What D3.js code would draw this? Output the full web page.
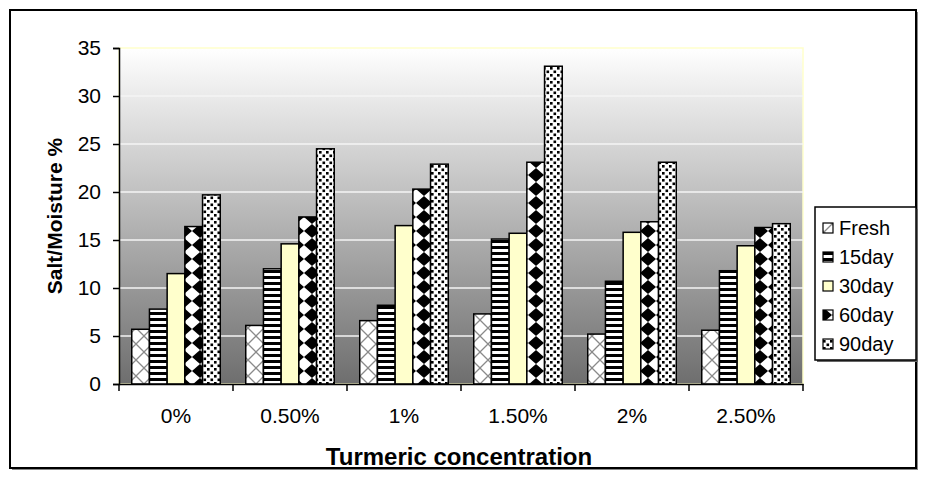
<!DOCTYPE html>
<html><head><meta charset="utf-8">
<script src="https://cdn.jsdelivr.net/npm/d3@7"></script>
<style>body{margin:0;background:#fff}svg{display:block;font-family:"Liberation Sans",Arial,sans-serif}</style>
</head><body><svg id="c" width="926" height="495"></svg>
<script>
const categories = ["0%","0.50%","1%","1.50%","2%","2.50%"];
const seriesNames = ["Fresh","15day","30day","60day","90day"];
const fresh = [5.7, 6.1, 6.6, 7.3, 5.2, 5.6];
const day15 = [7.8, 12.0, 8.2, 15.1, 10.7, 11.8];
const day30 = [11.5, 14.6, 16.5, 15.7, 15.8, 14.4];
const day60 = [16.4, 17.4, 20.3, 23.1, 16.9, 16.3];
const day90 = [19.7, 24.5, 22.9, 33.1, 23.1, 16.7];
const yTicks = [0,5,10,15,20,25,30,35];
const values = [fresh, day15, day30, day60, day90];

const svg = d3.select("#c");
const defs = svg.append("defs");
const g = defs.append("linearGradient").attr("id","bg").attr("x1",0).attr("y1",0).attr("x2",0).attr("y2",1);
g.append("stop").attr("offset","0%").attr("stop-color","#ffffff");
g.append("stop").attr("offset","100%").attr("stop-color","#6e6e6e");
function pat(id,w,h){return defs.append("pattern").attr("id",id).attr("patternUnits","userSpaceOnUse").attr("width",w).attr("height",h);}
let p = pat("pFresh",16,16);
p.append("rect").attr("width",16).attr("height",16).attr("fill","#fff");
p.append("path").attr("d","M0,0L16,16M16,0L0,16").attr("stroke","#8a8a8a").attr("stroke-width",1.3);
p = pat("p15",6,6);
p.append("rect").attr("width",6).attr("height",6).attr("fill","#fff");
p.append("rect").attr("width",6).attr("height",3).attr("fill","#000");
p = pat("p60",16,14);
p.append("rect").attr("width",16).attr("height",14).attr("fill","#fff");
p.append("path").attr("d","M8,0L16,7L8,14L0,7Z").attr("fill","#000");
p = pat("p90",7,7);
p.append("rect").attr("width",7).attr("height",7).attr("fill","#fff");
p.append("rect").attr("x",0.5).attr("y",0.5).attr("width",2.6).attr("height",2.6).attr("fill","#000");
p.append("rect").attr("x",4).attr("y",4).attr("width",2.6).attr("height",2.6).attr("fill","#000");
const fills = ["url(#pFresh)","url(#p15)","#ffffcc","url(#p60)","url(#p90)"];

// outer frame
svg.append("rect").attr("x",12).attr("y",12).attr("width",906).attr("height",458).attr("fill","#888");
svg.append("rect").attr("x",10).attr("y",10).attr("width",906).attr("height",458).attr("fill","#fff").attr("stroke","#000").attr("stroke-width",2);

const L=119, R=803, T=48, B=384;
const x0 = d3.scaleBand().domain(categories).range([L,R]);
const x1 = d3.scaleBand().domain(seriesNames).range([0,x0.bandwidth()]).paddingOuter(0.72);
const y = d3.scaleLinear().domain([0,35]).range([B,T]);

svg.append("rect").attr("x",L).attr("y",T).attr("width",R-L).attr("height",B-T).attr("fill","url(#bg)").attr("stroke","#ffffcc").attr("stroke-width",1.5);
svg.append("g").selectAll("line").data(yTicks.filter(d=>d>0&&d<35)).join("line")
  .attr("x1",L).attr("x2",R).attr("y1",d=>y(d)).attr("y2",d=>y(d)).attr("stroke","#f4f4f4").attr("stroke-width",1.5);

const bars = svg.append("g");
seriesNames.forEach((s,i)=>{
  bars.append("g").selectAll("rect").data(values[i]).join("rect")
    .attr("x",(d,j)=>x0(categories[j])+x1(s))
    .attr("width",x1.bandwidth())
    .attr("y",d=>y(d)).attr("height",d=>B-y(d))
    .attr("fill",fills[i]).attr("stroke","#000").attr("stroke-width",1.5);
});

const ya = svg.append("g").attr("transform",`translate(${L},0)`).call(d3.axisLeft(y).tickValues(yTicks).tickSize(6).tickPadding(12));
ya.select(".domain").attr("stroke","#000").attr("stroke-width",1.5);
ya.selectAll("text").attr("font-size",21).attr("fill","#000").attr("font-family","Liberation Sans, Arial");
ya.selectAll("line").attr("stroke","#000").attr("stroke-width",1.5);

const xa = svg.append("g").attr("transform",`translate(0,${B})`).call(d3.axisBottom(x0).tickSize(0).tickPadding(24));
xa.select(".domain").attr("stroke","#000").attr("stroke-width",1.5);
xa.selectAll("text").attr("font-size",21).attr("fill","#000").attr("font-family","Liberation Sans, Arial");
svg.append("g").selectAll("line").data(categories.concat(["end"])).join("line")
  .attr("x1",(d,i)=>i<categories.length?x0(d):R).attr("x2",(d,i)=>i<categories.length?x0(d):R)
  .attr("y1",B).attr("y2",B+7).attr("stroke","#000").attr("stroke-width",1.5);

svg.append("text").attr("x",459).attr("y",465).attr("text-anchor","middle").attr("font-weight","bold").attr("font-size",24).text("Turmeric concentration");
svg.append("text").attr("transform",`translate(62,${(T+B)/2}) rotate(-90)`).attr("text-anchor","middle").attr("font-weight","bold").attr("font-size",21).text("Salt/Moisture %");

const lg = svg.append("g");
const lx=815, ly=207, lw=101, lh=153;
lg.append("rect").attr("x",lx+2).attr("y",ly+2).attr("width",lw).attr("height",lh).attr("fill","#666");
lg.append("rect").attr("x",lx).attr("y",ly).attr("width",lw).attr("height",lh).attr("fill","#fff").attr("stroke","#000").attr("stroke-width",1.5);
seriesNames.forEach((s,i)=>{
  const cy = ly+21+i*29;
  lg.append("rect").attr("x",lx+8).attr("y",cy-5).attr("width",10).attr("height",10).attr("fill",fills[i]).attr("stroke","#000").attr("stroke-width",1.2);
  lg.append("text").attr("x",lx+24).attr("y",cy+7).attr("font-size",20).text(s);
});
</script></body></html>
